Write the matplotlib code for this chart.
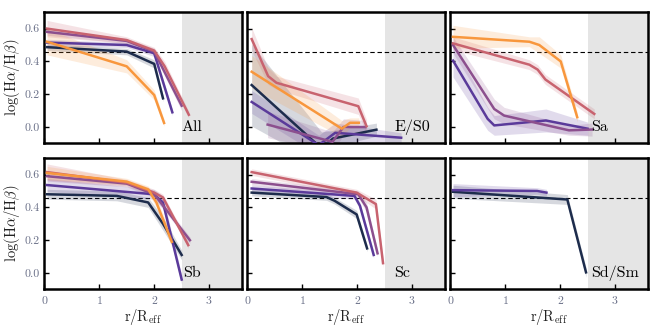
import numpy as np
import matplotlib
matplotlib.use('Agg')
import matplotlib.pyplot as plt

plt.rcParams['font.family'] = 'serif'
plt.rcParams['font.serif'] = ['cmr10', 'DejaVu Serif']
plt.rcParams['mathtext.fontset'] = 'cm'
plt.rcParams['axes.formatter.use_mathtext'] = True

# colours of the five series (navy -> orange)
c_navy = '#1d2c4c'
c_indigo = '#5a3a9a'
c_mauve = '#8c4f8e'
c_rose = '#c8636f'
c_orange = '#f8973d'

panel_names = ['All', 'E/S0', 'Sa', 'Sb', 'Sc', 'Sd/Sm']
label_pos = [(2.5, 0.0), (2.68, 0.0), (2.56, 0.0), (2.52, 0.0), (2.68, 0.0), (2.56, 0.0)]

# --- All ---
all_navy_x = [0.05, 1.5, 2.0, 2.16]
all_navy_y = [0.487, 0.46, 0.385, 0.175]
all_navy_e = [0.02, 0.02, 0.025, 0.02]
all_indigo_x = [0.05, 1.5, 2.0, 2.33]
all_indigo_y = [0.515, 0.50, 0.45, 0.09]
all_indigo_e = [0.02, 0.015, 0.02, 0.02]
all_mauve_x = [0.05, 1.5, 2.0, 2.5]
all_mauve_y = [0.58, 0.525, 0.46, 0.13]
all_mauve_e = [0.02, 0.015, 0.02, 0.03]
all_rose_x = [0.05, 1.5, 2.0, 2.19, 2.63]
all_rose_y = [0.60, 0.53, 0.466, 0.37, 0.075]
all_rose_e = [0.05, 0.02, 0.02, 0.03, 0.02]
all_orange_x = [0.05, 1.5, 2.0, 2.18]
all_orange_y = [0.52, 0.37, 0.195, 0.025]
all_orange_e = [0.08, 0.04, 0.03, 0.02]

# --- E/S0 ---
es0_navy_x = [0.08, 1.35, 1.56, 2.35]
es0_navy_y = [0.256, -0.13, -0.07, -0.016]
es0_navy_e = [0.25, 0.1, 0.05, 0.04]
es0_indigo_x = [0.08, 1.3, 1.6, 2.8]
es0_indigo_y = [0.153, -0.11, -0.035, -0.065]
es0_indigo_e = [0.07, 0.06, 0.06, 0.03]
es0_mauve_x = [0.37, 1.55, 1.75, 2.15]
es0_mauve_y = [0.015, -0.09, 0.0, 0.0]
es0_mauve_e = [0.08, 0.06, 0.05, 0.04]
es0_rose_x = [0.08, 0.38, 0.53, 2.02, 2.17]
es0_rose_y = [0.536, 0.31, 0.27, 0.127, 0.005]
es0_rose_e = [0.07, 0.05, 0.04, 0.05, 0.04]
es0_orange_x = [0.08, 1.72, 1.87, 2.03]
es0_orange_y = [0.337, -0.01, 0.026, 0.026]
es0_orange_e = [0.1, 0.05, 0.03, 0.03]

# --- Sa ---
sa_indigo_x = [0.05, 0.68, 0.8, 1.74, 2.5]
sa_indigo_y = [0.405, 0.05, 0.01, 0.04, -0.01]
sa_indigo_e = [0.1, 0.07, 0.06, 0.07, 0.04]
sa_mauve_x = [0.05, 0.8, 0.98, 2.16, 2.58]
sa_mauve_y = [0.50, 0.11, 0.07, -0.02, -0.015]
sa_mauve_e = [0.05, 0.06, 0.05, 0.03, 0.04]
sa_rose_x = [0.05, 1.44, 1.59, 1.73, 2.62]
sa_rose_y = [0.51, 0.38, 0.35, 0.29, 0.08]
sa_rose_e = [0.04, 0.03, 0.03, 0.03, 0.03]
sa_orange_x = [0.05, 1.44, 1.62, 2.01, 2.31]
sa_orange_y = [0.55, 0.52, 0.50, 0.40, 0.06]
sa_orange_e = [0.07, 0.03, 0.05, 0.04, 0.03]

# --- Sb ---
sb_navy_x = [0.05, 1.32, 1.89, 2.16, 2.5]
sb_navy_y = [0.48, 0.47, 0.43, 0.30, 0.11]
sb_navy_e = [0.03, 0.03, 0.03, 0.04, 0.03]
sb_indigo_x = [0.05, 1.99, 2.16, 2.5]
sb_indigo_y = [0.536, 0.48, 0.43, -0.04]
sb_indigo_e = [0.04, 0.03, 0.04, 0.03]
sb_mauve_x = [0.05, 1.5, 2.0, 2.65]
sb_mauve_y = [0.59, 0.545, 0.48, 0.20]
sb_mauve_e = [0.03, 0.02, 0.02, 0.02]
sb_rose_x = [0.05, 1.5, 2.0, 2.16, 2.62]
sb_rose_y = [0.615, 0.55, 0.49, 0.46, 0.17]
sb_rose_e = [0.05, 0.02, 0.02, 0.02, 0.02]
sb_orange_x = [0.05, 1.5, 1.89, 2.04, 2.32]
sb_orange_y = [0.61, 0.557, 0.51, 0.43, 0.19]
sb_orange_e = [0.04, 0.02, 0.02, 0.03, 0.03]

# --- Sc ---
sc_navy_x = [0.08, 1.44, 1.59, 1.99, 2.18]
sc_navy_y = [0.49, 0.463, 0.44, 0.357, 0.15]
sc_navy_e = [0.02, 0.02, 0.02, 0.025, 0.02]
sc_indigo_x = [0.08, 1.95, 2.05, 2.3]
sc_indigo_y = [0.515, 0.47, 0.41, 0.11]
sc_indigo_e = [0.02, 0.02, 0.02, 0.02]
sc_mauve_x = [0.08, 2.02, 2.17, 2.37]
sc_mauve_y = [0.556, 0.48, 0.40, 0.12]
sc_mauve_e = [0.02, 0.02, 0.03, 0.02]
sc_rose_x = [0.08, 1.99, 2.34, 2.47]
sc_rose_y = [0.615, 0.49, 0.42, 0.06]
sc_rose_e = [0.02, 0.02, 0.03, 0.03]

# --- Sd/Sm ---
sd_navy_x = [0.05, 2.13, 2.47]
sd_navy_y = [0.495, 0.448, 0.004]
sd_navy_e = [0.04, 0.03, 0.03]
sd_indigo_x = [0.05, 1.58, 1.75]
sd_indigo_y = [0.505, 0.50, 0.49]
sd_indigo_e = [0.04, 0.02, 0.02]

panels = [
    [(all_navy_x, all_navy_y, all_navy_e, c_navy),
     (all_indigo_x, all_indigo_y, all_indigo_e, c_indigo),
     (all_mauve_x, all_mauve_y, all_mauve_e, c_mauve),
     (all_rose_x, all_rose_y, all_rose_e, c_rose),
     (all_orange_x, all_orange_y, all_orange_e, c_orange)],
    [(es0_navy_x, es0_navy_y, es0_navy_e, c_navy),
     (es0_indigo_x, es0_indigo_y, es0_indigo_e, c_indigo),
     (es0_mauve_x, es0_mauve_y, es0_mauve_e, c_mauve),
     (es0_rose_x, es0_rose_y, es0_rose_e, c_rose),
     (es0_orange_x, es0_orange_y, es0_orange_e, c_orange)],
    [(sa_indigo_x, sa_indigo_y, sa_indigo_e, c_indigo),
     (sa_mauve_x, sa_mauve_y, sa_mauve_e, c_mauve),
     (sa_rose_x, sa_rose_y, sa_rose_e, c_rose),
     (sa_orange_x, sa_orange_y, sa_orange_e, c_orange)],
    [(sb_navy_x, sb_navy_y, sb_navy_e, c_navy),
     (sb_indigo_x, sb_indigo_y, sb_indigo_e, c_indigo),
     (sb_mauve_x, sb_mauve_y, sb_mauve_e, c_mauve),
     (sb_rose_x, sb_rose_y, sb_rose_e, c_rose),
     (sb_orange_x, sb_orange_y, sb_orange_e, c_orange)],
    [(sc_navy_x, sc_navy_y, sc_navy_e, c_navy),
     (sc_indigo_x, sc_indigo_y, sc_indigo_e, c_indigo),
     (sc_mauve_x, sc_mauve_y, sc_mauve_e, c_mauve),
     (sc_rose_x, sc_rose_y, sc_rose_e, c_rose)],
    [(sd_navy_x, sd_navy_y, sd_navy_e, c_navy),
     (sd_indigo_x, sd_indigo_y, sd_indigo_e, c_indigo)],
]

tick_col = '#6a7088'

fig, axes = plt.subplots(2, 3, figsize=(6.56, 3.3), dpi=100)
fig.subplots_adjust(left=0.0675, right=0.988, top=0.963, bottom=0.123,
                    wspace=0.026, hspace=0.112)

for i, ax in enumerate(axes.flat):
    ax.axvspan(2.5, 3.6, color='#e5e5e5', lw=0, zorder=0)
    ax.axhline(0.46, color='k', lw=0.8, ls=(0, (4, 2.5)), zorder=1)
    for x, y, e, c in panels[i]:
        x = np.array(x); y = np.array(y); e = np.array(e)
        ax.fill_between(x, y - e, y + e, color=c, alpha=0.18, lw=0, zorder=2)
        ax.plot(x, y, color=c, lw=1.8, zorder=3)
    ax.text(label_pos[i][0], label_pos[i][1], panel_names[i], fontsize=11.5,
            va='center', ha='left', zorder=5)
    ax.set_xlim(0, 3.6)
    ax.set_ylim(-0.1, 0.7)
    ax.set_xticks([0, 1, 2, 3])
    ax.set_yticks([0.0, 0.2, 0.4, 0.6])
    ax.set_yticklabels(['0.0', '0.2', '0.4', '0.6'])
    ax.tick_params(direction='in', length=3.5, width=1.0, labelsize=8.5,
                   labelcolor=tick_col, top=False, right=False, pad=3)
    for s in ax.spines.values():
        s.set_linewidth(1.8)
    if i % 3 == 0:
        ax.set_ylabel(r'$\log(\mathrm{H}\alpha/\mathrm{H}\beta)$', fontsize=10.5,
                      color='#222222', labelpad=2)
    else:
        ax.tick_params(labelleft=False)
    if i < 3:
        ax.tick_params(labelbottom=False)
    else:
        ax.set_xlabel(r'$\mathrm{r/R_{eff}}$', fontsize=10.5, color='#222222',
                      labelpad=1)

fig.savefig('out.png', dpi=100)
